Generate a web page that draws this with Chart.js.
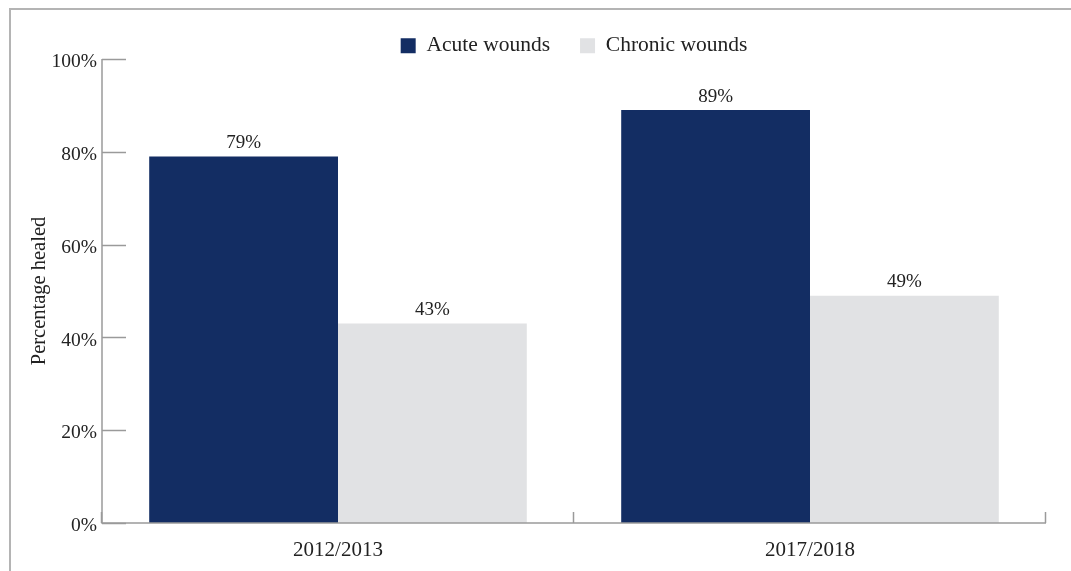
<!DOCTYPE html>
<html>
<head>
<meta charset="utf-8">
<script src="https://cdn.jsdelivr.net/npm/chart.js@4"></script>
<style>
html,body{margin:0;padding:0;background:#fff;}
#wrap{width:1071px;height:571px;position:relative;}
</style>
</head>
<body>
<div id="wrap"><canvas id="c" width="1071" height="571"></canvas></div>
<script>
const categories = ["2012/2013", "2017/2018"];
const acuteWounds = [79, 89];
const chronicWounds = [43, 49];
const seriesNames = ["Acute wounds", "Chronic wounds"];
const yTicks = [0, 20, 40, 60, 80, 100];

const FONT = "'Liberation Serif', 'DejaVu Serif', serif";
const AXIS = '#9a9a9a';
const LEGEND_HEIGHT = 54;

const framePlugin = {
  id: 'frame',
  afterInit(chart) {
    const lg = chart.legend;
    if (lg) {
      const origFit = lg.fit.bind(lg);
      lg.fit = function () { origFit(); this.height = LEGEND_HEIGHT; };
    }
  },
  afterLayout(chart) {
    const lg = chart.legend;
    if (lg) {
      lg.left = chart.chartArea.left;
      lg.right = chart.chartArea.right;
      lg.width = lg.right - lg.left;
    }
  },
  beforeDraw(chart) {
    const ctx = chart.ctx;
    ctx.save();
    ctx.strokeStyle = '#b4b4b4';
    ctx.lineWidth = 2;
    ctx.beginPath();
    ctx.moveTo(10, 571);
    ctx.lineTo(10, 9);
    ctx.lineTo(1071, 9);
    ctx.stroke();
    ctx.restore();
  },
  afterDraw(chart) {
    const ctx = chart.ctx;
    const y = chart.scales.y;
    const a = chart.chartArea;
    ctx.save();
    ctx.strokeStyle = AXIS;
    ctx.lineWidth = 1.5;
    yTicks.forEach(v => {
      const py = Math.round(y.getPixelForValue(v)) + 0.5;
      ctx.beginPath();
      ctx.moveTo(a.left, py);
      ctx.lineTo(a.left + 24, py);
      ctx.stroke();
    });
    const n = categories.length;
    for (let i = 0; i <= n; i++) {
      const px = Math.round(a.left + (a.right - a.left) * i / n) - 0.5;
      ctx.beginPath();
      ctx.moveTo(px, a.bottom);
      ctx.lineTo(px, a.bottom - 11);
      ctx.stroke();
    }
    ctx.beginPath();
    ctx.moveTo(a.left, Math.round(y.getPixelForValue(100)));
    ctx.lineTo(a.left, a.bottom);
    ctx.lineTo(a.right, a.bottom);
    ctx.stroke();
    ctx.restore();
  },
  afterDatasetsDraw(chart) {
    const ctx = chart.ctx;
    ctx.save();
    ctx.font = "19px " + FONT;
    ctx.fillStyle = '#222';
    ctx.textAlign = 'center';
    ctx.textBaseline = 'bottom';
    chart.data.datasets.forEach((ds, di) => {
      const meta = chart.getDatasetMeta(di);
      meta.data.forEach((bar, i) => {
        ctx.fillText(ds.data[i] + '%', bar.x, bar.y - 4);
      });
    });
    ctx.restore();
  }
};

new Chart(document.getElementById('c'), {
  type: 'bar',
  data: {
    labels: categories,
    datasets: [
      { label: seriesNames[0], data: acuteWounds, backgroundColor: '#132d63', borderWidth: 0 },
      { label: seriesNames[1], data: chronicWounds, backgroundColor: '#e1e2e4', borderWidth: 0 }
    ]
  },
  options: {
    responsive: false,
    animation: false,
    devicePixelRatio: 1,
    layout: { padding: { top: 5, right: 25, bottom: 0, left: 0 } },
    datasets: { bar: { categoryPercentage: 0.8, barPercentage: 1.0 } },
    plugins: {
      legend: {
        display: true,
        position: 'top',
        labels: {
          font: { family: FONT, size: 21.5 },
          color: '#222',
          boxWidth: 15,
          boxHeight: 15,
          padding: 30
        }
      },
      tooltip: { enabled: false }
    },
    scales: {
      x: {
        grid: { display: false, drawTicks: false },
        border: { display: false },
        ticks: { font: { family: FONT, size: 21 }, color: '#222', padding: 15 },
        afterFit(s) { s.height = 48; }
      },
      y: {
        min: 0, max: 100,
        grid: { display: false, drawTicks: false },
        border: { display: false },
        ticks: {
          stepSize: 20,
          font: { family: FONT, size: 19.5 },
          color: '#222',
          padding: 5,
          labelOffset: 3,
          callback: v => v + '%'
        },
        title: {
          display: true,
          text: 'Percentage healed',
          font: { family: FONT, size: 20.5 },
          color: '#222',
          padding: { top: 27, bottom: 0 }
        },
        afterFit(s) { s.width = 102; }
      }
    }
  },
  plugins: [framePlugin]
});
</script>
</body>
</html>
